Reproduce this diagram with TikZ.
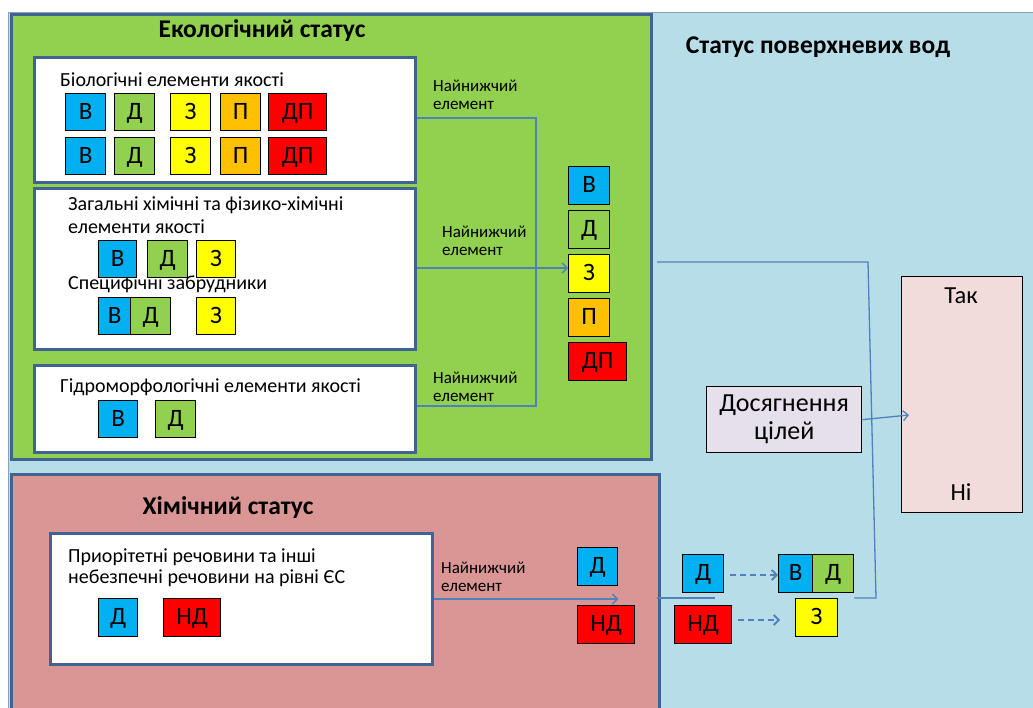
\documentclass[tikz,border=0pt]{standalone}
\usepackage{fontspec}
\setmainfont{Carlito}
\usetikzlibrary{arrows.meta}
\definecolor{cBlue}{HTML}{00B0F0}
\definecolor{cGreen}{HTML}{92D050}
\definecolor{cYellow}{HTML}{FFFF00}
\definecolor{cOrange}{HTML}{FFC000}
\definecolor{cRed}{HTML}{FF0000}
\definecolor{bgBlue}{HTML}{B7DDE8}
\definecolor{bgRed}{HTML}{D99694}
\definecolor{frame}{HTML}{3F6393}
\definecolor{conn}{HTML}{4F81BD}
\definecolor{pinkbox}{HTML}{F2DCDB}
\definecolor{lavbox}{HTML}{E5E0EC}
\tikzset{
  tile/.style={draw=black, line width=1.3pt, anchor=north west, inner sep=0pt,
    minimum height=37pt, minimum width=40pt, text height=16pt, text depth=2pt,
    font=\fontsize{25}{27}\selectfont},
  panel/.style={draw=frame, line width=2.6pt},
  wbox/.style={draw=frame, line width=3pt, fill=white},
  lbl/.style={anchor=west, inner sep=0pt, font=\fontsize{20}{22}\selectfont},
  small/.style={anchor=west, inner sep=0pt, align=left, font=\fontsize{17}{18.5}\selectfont},
  ttl/.style={inner sep=0pt, font=\fontsize{25.5}{28}\selectfont\bfseries},
  conline/.style={draw=conn, line width=1.3pt},
  arr/.style={conline, -{Straight Barb[length=5pt,width=10pt]}},
  dsh/.style={arr, line width=1.8pt, dash pattern=on 6pt off 4pt},
}
\begin{document}
\begin{tikzpicture}[x=1pt,y=-1pt]
\useasboundingbox (0,0) rectangle (1033,707);
\fill[white] (0,0) rectangle (1033,707);
% backgrounds
\draw[fill=bgBlue, draw=frame!60, line width=1pt] (8,12) rectangle (1040,712);
\node[panel, fill=cGreen, anchor=north west, minimum width=640pt, minimum height=445pt, inner sep=0pt] (eco) at (10,13) {};
\node[panel, fill=bgRed, anchor=north west, minimum width=648pt, minimum height=240pt, inner sep=0pt] (chem) at (10,473) {};
% titles
\node[ttl] (tEco) at (262,31) {Екологічний статус};
\node[ttl] (tSur) at (818,47) {Статус поверхневих вод};
\node[ttl] (tChem) at (228,508) {Хімічний статус};
% white boxes
\node[wbox, anchor=north west, minimum width=381pt, minimum height=125pt, inner sep=0pt] (bio) at (33,56) {};
\node[wbox, anchor=north west, minimum width=381pt, minimum height=161pt, inner sep=0pt] (phys) at (33,187) {};
\node[wbox, anchor=north west, minimum width=381pt, minimum height=87pt, inner sep=0pt] (hyd) at (33,364) {};
\node[wbox, anchor=north west, minimum width=382pt, minimum height=131pt, inner sep=0pt] (pri) at (49,532) {};
% labels in boxes
\node[lbl] (lBio) at (60,80) {Біологічні елементи якості};
\node[lbl] (lPhys1) at (68,205) {Загальні хімічні та фізико-хімічні};
\node[lbl] (lPhys2) at (68,227) {елементи якості};
\node[lbl] (lSpec) at (68,284) {Специфічні забрудники};
\node[lbl] (lHyd) at (60,387) {Гідроморфологічні елементи якості};
\node[lbl] (lPri1) at (68,557) {Приорітетні речовини та інші};
\node[lbl] (lPri2) at (68,578) {небезпечні речовини на рівні ЄС};
% bio tiles
\node[tile, fill=cBlue] (b1) at (65,93) {В};
\node[tile, fill=cGreen] (b2) at (114,93) {Д};
\node[tile, fill=cYellow] (b3) at (170,93) {З};
\node[tile, fill=cOrange] (b4) at (220,93) {П};
\node[tile, fill=cRed, minimum width=58pt] (b5) at (268,93) {ДП};
\node[tile, fill=cBlue] (c1) at (65,137) {В};
\node[tile, fill=cGreen] (c2) at (114,137) {Д};
\node[tile, fill=cYellow] (c3) at (170,137) {З};
\node[tile, fill=cOrange] (c4) at (220,137) {П};
\node[tile, fill=cRed, minimum width=58pt] (c5) at (268,137) {ДП};
% phys tiles
\node[tile, fill=cBlue, minimum width=38pt] (p1) at (98,240) {В};
\node[tile, fill=cGreen] (p2) at (147,240) {Д};
\node[tile, fill=cYellow, minimum width=39pt] (p3) at (196,240) {З};
\node[tile, fill=cBlue, minimum width=32pt] (s1) at (98,297) {В};
\node[tile, fill=cGreen] (s2) at (130,297) {Д};
\node[tile, fill=cYellow, minimum width=39pt] (s3) at (196,297) {З};
% hydro tiles
\node[tile, fill=cBlue, minimum width=39pt] (h1) at (98,400) {В};
\node[tile, fill=cGreen] (h2) at (155,400) {Д};
% eco result column
\node[tile, fill=cBlue, minimum width=41pt, minimum height=38pt] (r1) at (568,166) {В};
\node[tile, fill=cGreen, minimum width=41pt, minimum height=38pt] (r2) at (568,210) {Д};
\node[tile, fill=cYellow, minimum width=41pt, minimum height=38pt] (r3) at (568,254) {З};
\node[tile, fill=cOrange, minimum width=41pt, minimum height=38pt] (r4) at (568,298) {П};
\node[tile, fill=cRed, minimum width=58pt, minimum height=38pt] (r5) at (568,342) {ДП};
% chem tiles
\node[tile, fill=cBlue, minimum width=39pt, minimum height=38pt] (q1) at (98,598) {Д};
\node[tile, fill=cRed, minimum width=57pt, minimum height=38pt] (q2) at (163,598) {НД};
\node[tile, fill=cBlue, minimum width=40pt, minimum height=38pt] (k1) at (577,547) {Д};
\node[tile, fill=cRed, minimum width=57pt, minimum height=38pt] (k2) at (577,605) {НД};
% right side tiles
\node[tile, fill=cBlue, minimum width=41pt, minimum height=38pt] (m1) at (682,554) {Д};
\node[tile, fill=cRed, minimum width=57pt, minimum height=38pt] (m2) at (674,605) {НД};
\node[tile, fill=cBlue, minimum width=34pt, minimum height=38pt] (n1) at (778,554) {В};
\node[tile, fill=cGreen, minimum width=41pt, minimum height=38pt] (n2) at (812,554) {Д};
\node[tile, fill=cYellow, minimum width=42pt, minimum height=38pt] (n3) at (795,598) {З};
% goal boxes
\node[draw=black, line width=1.3pt, fill=lavbox, anchor=north west, minimum width=155pt, minimum height=66pt, inner sep=0pt, align=center, font=\fontsize{26}{28}\selectfont] (goal) at (706,386) {Досягнення\\цілей};
\node[draw=black, line width=1.3pt, fill=pinkbox, anchor=north west, minimum width=121pt, minimum height=236pt, inner sep=0pt] (yn) at (901,276) {};
\node[inner sep=0pt, font=\fontsize{24.5}{26}\selectfont] (yes) at (961,296) {Так};
\node[inner sep=0pt, font=\fontsize{24.5}{26}\selectfont] (no) at (961,492) {Ні};
% "lowest element" labels
\node[small] (n1l) at (433,95) {Найнижчий\\елемент};
\node[small] (n2l) at (442,241) {Найнижчий\\елемент};
\node[small] (n3l) at (433,387) {Найнижчий\\елемент};
\node[small] (n4l) at (441,577) {Найнижчий\\елемент};
% connectors
\coordinate (j1) at (536,118);
\coordinate (j3) at (536,406);
\draw[conline] (bio.east |- j1) -- (j1) -- (j3) -- (hyd.east |- j3);
\draw[arr] (phys.east |- 0,268) -- (r3.west |- 0,268);
\coordinate (e1) at (657,262);
\coordinate (e2) at (868,262);
\coordinate (e3) at (876,598);
\draw[conline] (e1) -- (e2) -- (e3) -- (n2.south east |- e3);
\draw[arr] (pri.east |- 0,599) -- (k1.south east |- 0,599);
\coordinate (f1) at (657,598);
\coordinate (f2) at (715,598);
\draw[conline] (f1) -- (f2);
\coordinate (d1) at (730,575);
\coordinate (d2) at (738,620);
\draw[dsh] (d1) -- (n1.west |- d1);
\draw[dsh] (d2) -- ([xshift=-15pt]n3.west |- d2);
\coordinate (g2) at (909,415);
\draw[arr] (goal.east) -- (g2);
\end{tikzpicture}
\end{document}
